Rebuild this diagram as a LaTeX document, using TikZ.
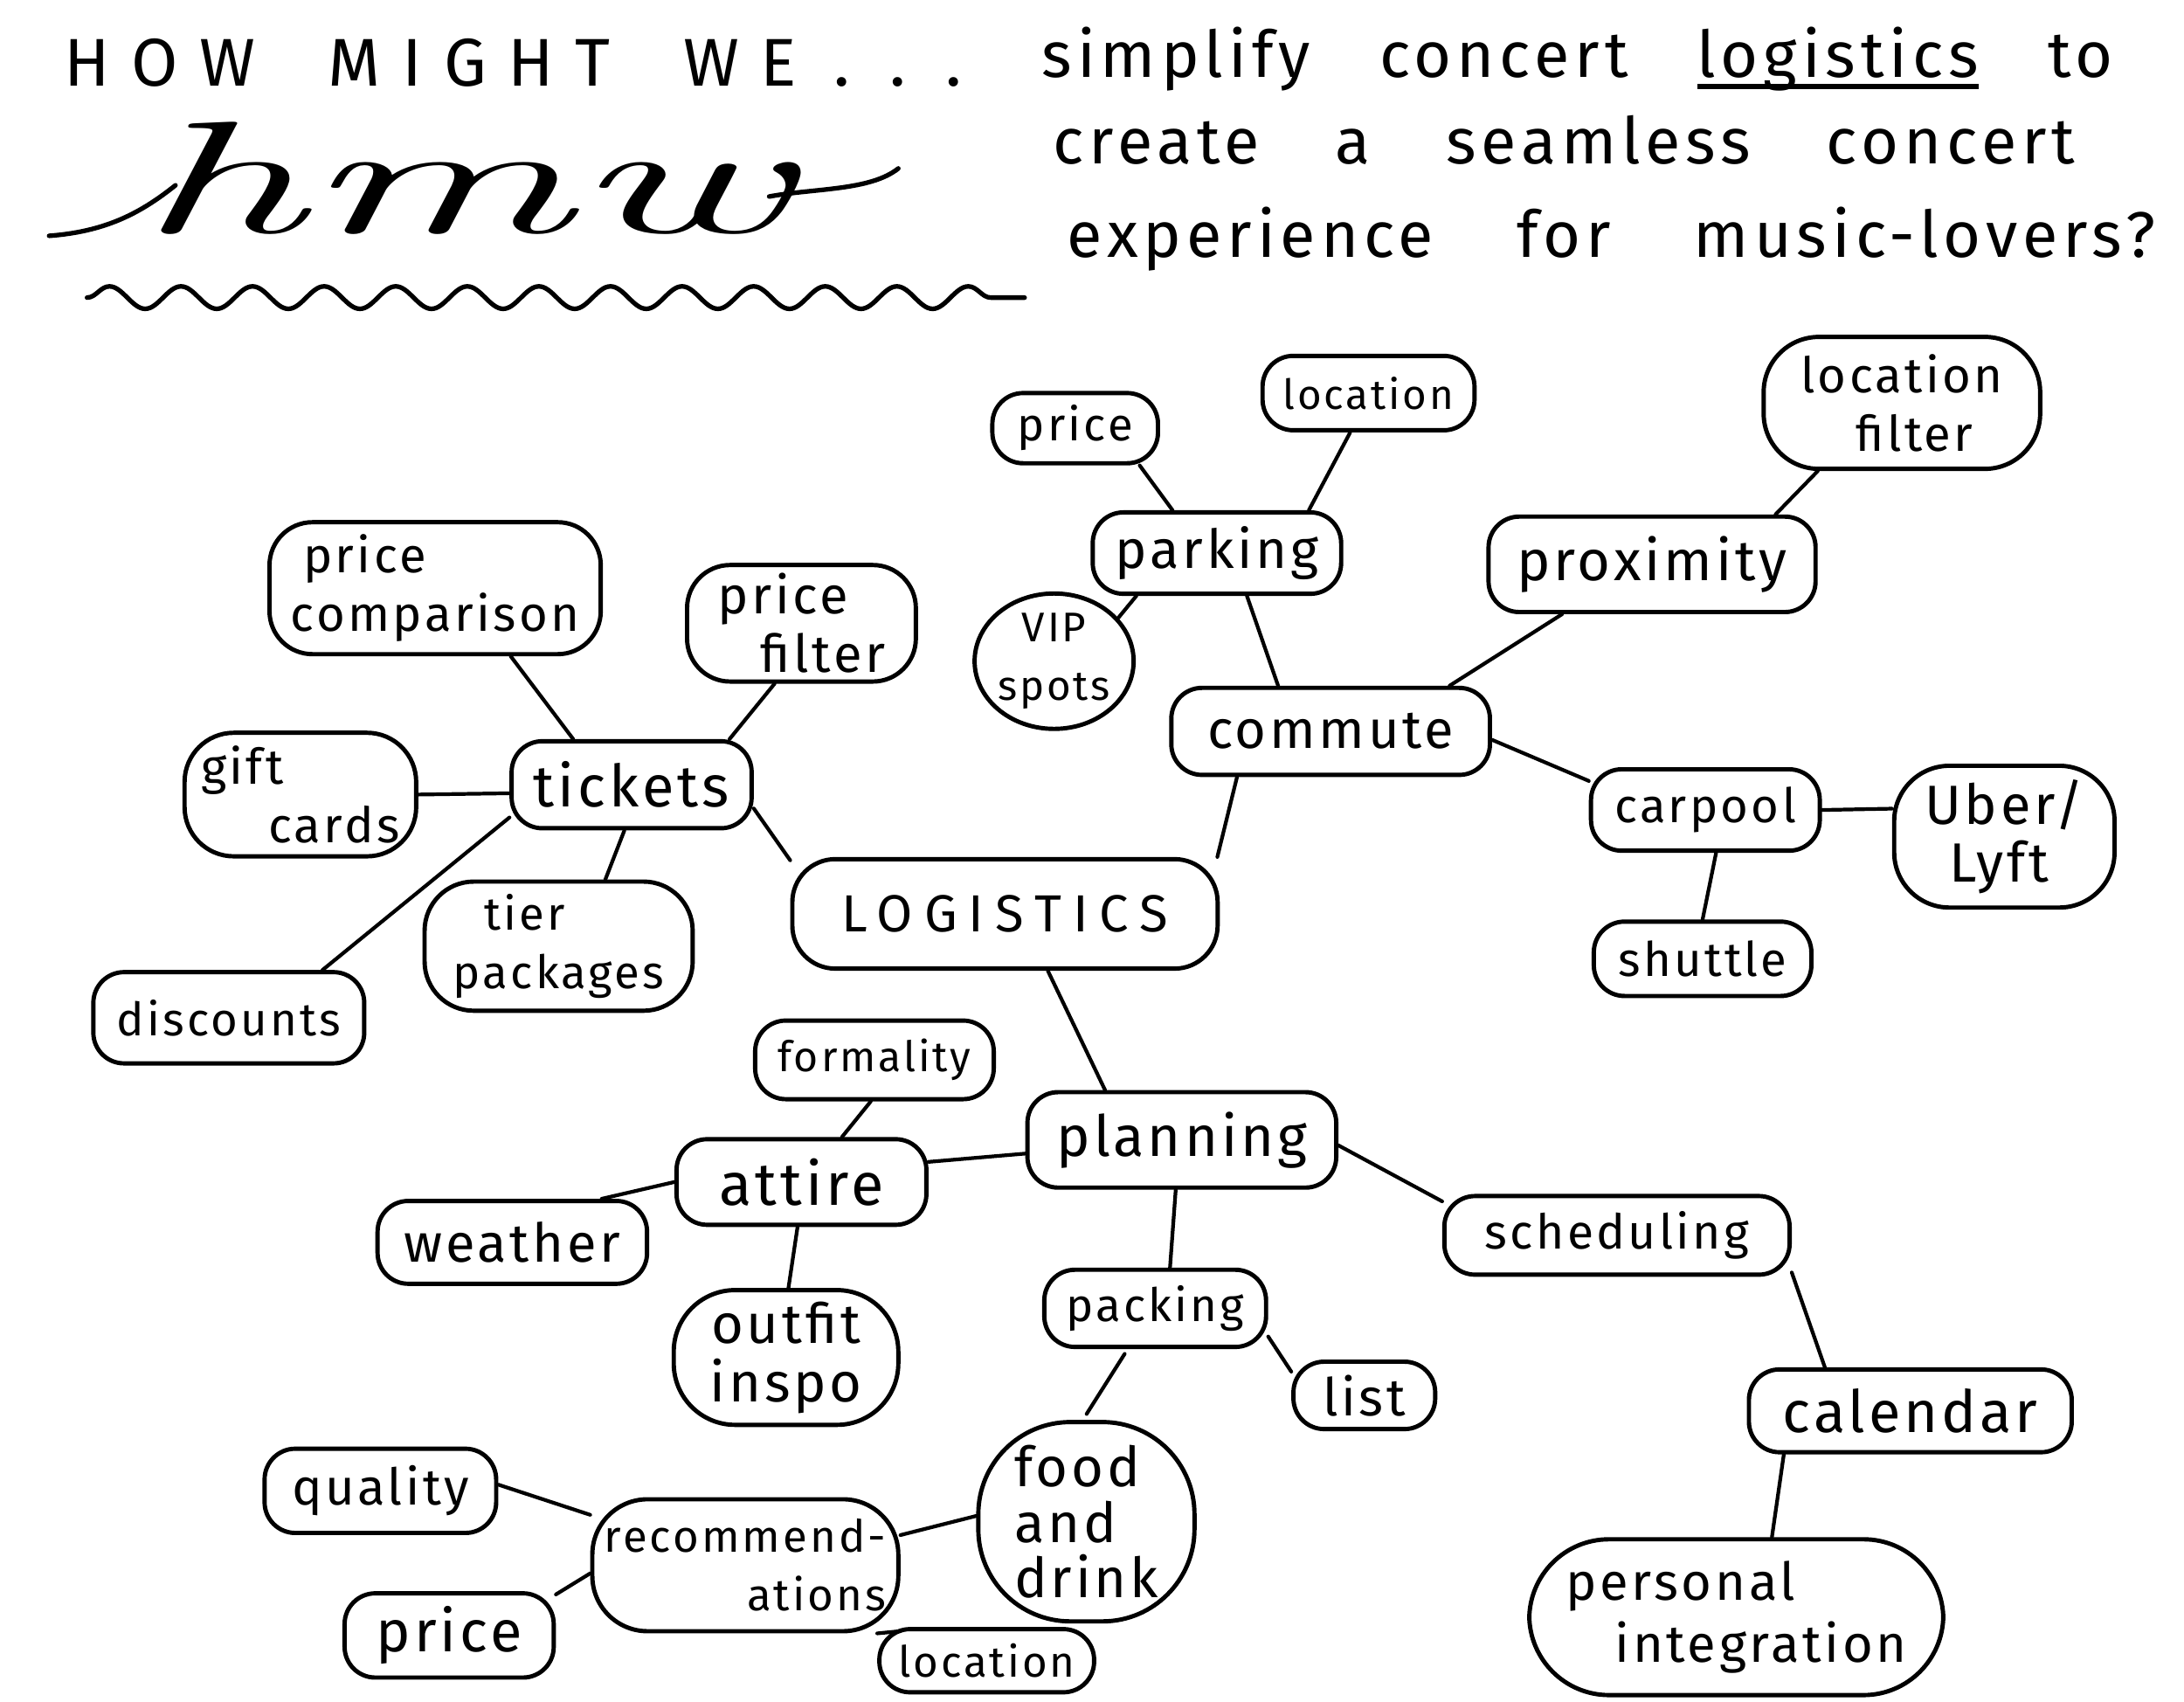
\documentclass[tikz,border=0pt]{standalone}
\usepackage{fontspec}
\usepackage{graphicx}
\newfontfamily\hand{Fira Sans}[LetterSpace=6]
\newfontfamily\handT{Fira Sans}[LetterSpace=8]
\newfontfamily\capsf{Fira Sans}[LetterSpace=22]
\newfontfamily\capst{Fira Sans}[LetterSpace=32]
\usetikzlibrary{decorations.pathmorphing, shapes.geometric}
\newlength\pxu
\setlength\pxu{0.016067cm}
\newcommand\myul[1]{\setbox0\hbox{#1}\rlap{\raisebox{-4pt}{\rule{\wd0}{1.8pt}}}\box0\relax}
\tikzset{
  nd/.style={draw, line width=1.4pt, rounded corners=10pt, inner sep=1pt, align=center, font=\hand\fontsize{17}{19}\selectfont},
  sz/.style 2 args={minimum width=#1*0.016067cm, minimum height=#2*0.016067cm},
  fs/.style={font=\hand\fontsize{#1}{19}\selectfont},
  ln/.style={line width=1.2pt},
  ttl/.style={anchor=base west, inner sep=0pt, font=\handT\fontsize{21}{24}\selectfont},
}
\begin{document}
\begin{tikzpicture}[x=0.016067cm, y=-0.016067cm, line cap=round, line join=round]
\useasboundingbox (0,0) rectangle (1556,1212);
\fill[white] (0,0) rectangle (1556,1212);

% ---------- title ----------
\node[anchor=base west, inner sep=0pt, font=\capst\fontsize{22}{24}\selectfont] (howmight) at (45,61)
  {\makebox[640\pxu][s]{HOW MIGHT WE\kern12pt.\kern13pt.\kern13pt.}};
\node[ttl] (qline1) at (742,55) {\makebox[763\pxu][s]{simplify concert \myul{logistics} to}};
\node[ttl] (qline2) at (750,117) {\makebox[728\pxu][s]{create a seamless concert}};
\node[ttl] (qline3) at (760,183) {\makebox[775\pxu][s]{experience for music-lovers?}};

% hmw script
\node[anchor=base, inner sep=0pt, font=\rmfamily\itshape\fontsize{52}{52}\selectfont] (hmw) at (330,166)
  {\scalebox{2.1}[1]{hmw}};
\draw[line width=1.5pt] (35,168) .. controls (75,165) and (100,152) .. (125,132);
\draw[line width=1.5pt] (548,140) .. controls (580,134) and (620,136) .. (640,120);
\draw[line width=1.5pt, decorate, decoration={snake, segment length=51\pxu, amplitude=8\pxu}] (62,212) -- (730,212);

% ---------- central ----------
\node[nd, sz={303}{78}, rounded corners=14pt, font=\capsf\fontsize{17}{20}\selectfont] (logi) at (716,651) {LOGISTICS};

% tickets branch
\node[nd, sz={171}{62}, fs=19] (tick) at (450,559) {tickets};
\node[nd, sz={236}{94}, rounded corners=14pt, align=left, fs=16] (pcomp) at (310,419) {\hspace*{4pt}price\\comparison};
\node[nd, sz={163}{83}, rounded corners=14pt, align=left, fs=17] (pfilt) at (571,444) {price\\\hspace*{14pt}filter};
\node[nd, sz={165}{88}, rounded corners=16pt, align=left, fs=16] (gift) at (214,566) {gift\\\hspace*{22pt}cards};
\node[nd, sz={191}{92}, rounded corners=16pt, align=left, fs=15] (tier) at (398,674) {\hspace*{10pt}tier\\packages};
\node[nd, sz={193}{65}, fs=15] (disc) at (163,725) {discounts};

% commute branch
\node[nd, sz={227}{62}, fs=17.5] (comm) at (948,521) {commute};
\node[nd, sz={177}{58}, fs=17.5] (park) at (867,394) {parking};
\node[nd, sz={118}{50}, fs=15] (pprice) at (766,305) {price};
\node[nd, sz={151}{53}, fs=13.5] (ploc) at (975,280) {location};
\node[nd, ellipse, inner sep=0pt, sz={112}{93}, fs=13.5] (vip) at (751,471) {VIP\\spots};
\node[nd, sz={233}{68}, fs=18.5] (prox) at (1177,402) {proximity};
\node[nd, sz={197}{94}, rounded corners=18pt, align=left, fs=16] (locf) at (1355,287) {location\\\hspace*{18pt}filter};
\node[nd, sz={163}{58}, fs=15.5] (carp) at (1215,577) {carpool};
\node[nd, sz={157}{101}, rounded corners=18pt, align=left, fs=18] (uber) at (1428,596) {Uber/\\\hspace*{8pt}Lyft};
\node[nd, sz={155}{53}, fs=15.5] (shut) at (1213,683) {shuttle};

% planning branch
\node[nd, sz={220}{68}, fs=18.5] (plan) at (842,812) {planning};
\node[nd, sz={178}{61}, fs=19.5] (att) at (571,842) {attire};
\node[nd, sz={170}{56}, fs=13.7] (form) at (623,755) {formality};
\node[nd, sz={192}{59}, fs=17.5] (weat) at (365,885) {weather};
\node[nd, sz={160}{96}, rounded corners=20pt, fs=18] (outf) at (560,967) {outfit\\inspo};
\node[nd, sz={158}{55}, fs=15] (pack) at (823,932) {packing};
\node[nd, sz={101}{48}, fs=17] (list) at (972,994) {list};
\node[nd, sz={154}{142}, rounded corners=30pt, align=left, font=\hand\fontsize{18}{18}\selectfont] (food) at (774,1084) {food\\and\\drink};
\node[nd, sz={218}{94}, rounded corners=18pt, align=right, fs=14.5] (rec) at (531,1115) {recommend-\\ations};
\node[nd, sz={165}{60}, fs=16.5] (qual) at (271,1062) {quality};
\node[nd, sz={149}{60}, fs=19] (rprice) at (320,1165) {price};
\node[nd, sz={153}{45}, fs=14] (rloc) at (703,1183) {location};
\node[nd, sz={246}{56}, fs=15.7] (sched) at (1152,880) {scheduling};
\node[nd, sz={230}{59}, fs=19] (cal) at (1361,1005) {calendar};
\node[nd, sz={295}{111}, rounded corners=26pt, align=left, font=\hand\fontsize{17}{20}\selectfont] (pers) at (1237,1152) {personal\\\hspace*{16pt}integration};

% ---------- connectors ----------
\draw[ln] (logi.166) -- (tick.-11);
\draw[ln] (tick.142) -- (pcomp.-42);
\draw[ln] (tick.25) -- (pfilt.246);
\draw[ln] (tick.184) -- (gift.0);
\draw[ln] (tick.261) -- (tier.55);
\draw[ln] (tick.195) -- (disc.27);
\draw[ln] (logi.15) -- (comm.206);
\draw[ln] (comm.139) -- (park.305);
\draw[ln] (park.136) -- (pprice.330);
\draw[ln] (park.25) -- (ploc.245);
\draw[ln] (park.208) -- (vip.34);
\draw[ln] (comm.21) -- (prox.209);
\draw[ln] (prox.22) -- (locf.219);
\draw[ln] (comm.-3) -- (carp.166);
\draw[ln] (carp.0) -- (uber.166);
\draw[ln] (carp.284) -- (shut.90);
\draw[ln] (logi.307) -- (plan.147);
\draw[ln] (plan.185) -- (att.9);
\draw[ln] (att.48) -- (form.265);
\draw[ln] (att.180) -- (weat.26);
\draw[ln] (att.265) -- (outf.88);
\draw[ln] (plan.263) -- (pack.70);
\draw[ln] (pack.346) -- (list.162);
\draw[ln, shorten <=4\pxu, shorten >=5\pxu] (pack.236) -- (food.92);
\draw[ln] (food.177) -- (rec.11);
\draw[ln] (rec.162) -- (qual.3);
\draw[ln] (rec.183) -- (rprice.21);
\draw[ln] (rec.337) -- (rloc.166);
\draw[ln] (plan.-2) -- (sched.169);
\draw[ln] (sched.348) -- (cal.153);
\draw[ln] (cal.199) -- (pers.66);
\end{tikzpicture}
\end{document}
